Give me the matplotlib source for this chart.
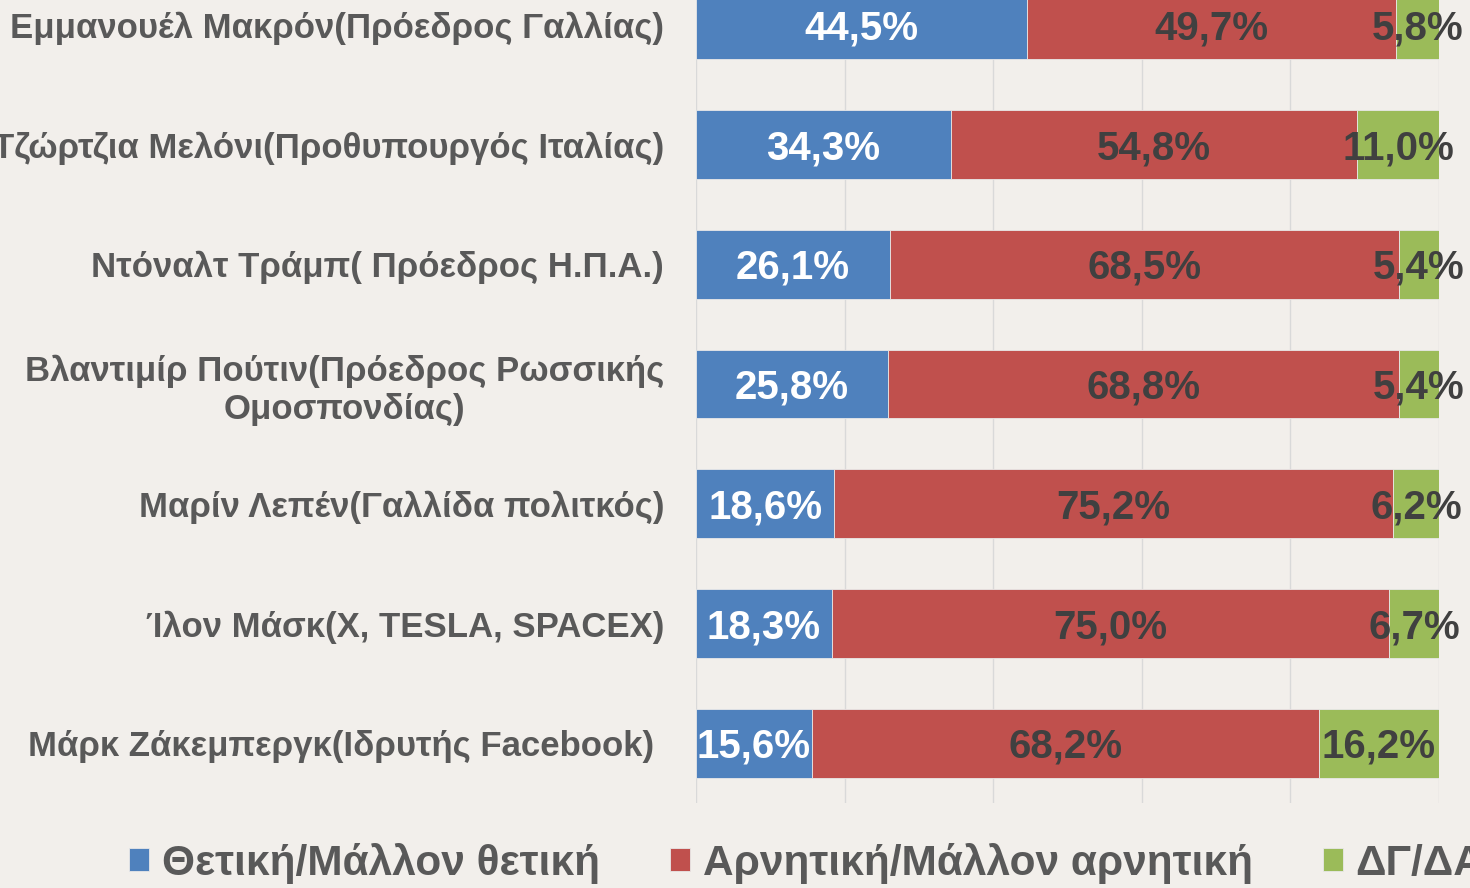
import matplotlib.pyplot as plt
import numpy as np

people = [
    "Εμμανουέλ Μακρόν(Πρόεδρος Γαλλίας)",
    "Τζώρτζια Μελόνι(Προθυπουργός Ιταλίας)",
    "Ντόναλτ Τράμπ( Πρόεδρος Η.Π.Α.)",
    "Βλαντιμίρ Πούτιν(Πρόεδρος Ρωσσικής\nΟμοσπονδίας)",
    "Μαρίν Λεπέν(Γαλλίδα πολιτκός)",
    "Ίλον Μάσκ(X, TESLA, SPACEX)",
    "Μάρκ Ζάκεμπεργκ(Ιδρυτής Facebook) ",
]
positive = [44.5, 34.3, 26.1, 25.8, 18.6, 18.3, 15.6]
negative = [49.7, 54.8, 68.5, 68.8, 75.2, 75.0, 68.2]
no_answer = [5.8, 11.0, 5.4, 5.4, 6.2, 6.7, 16.2]
series_names = ["Θετική/Μάλλον θετική", "Αρνητική/Μάλλον αρνητική", "ΔΓ/ΔΑ"]

colors = ["#4f81bd", "#c0504d", "#9bbb59"]
label_colors = ["white", "#404040", "#404040"]

plt.rcParams["font.family"] = ["Liberation Sans", "DejaVu Sans"]
plt.rcParams["font.weight"] = "bold"

fig = plt.figure(figsize=(14.7, 8.88), dpi=100)
fig.patch.set_facecolor("#f2efeb")
ax = fig.add_axes([0.4735, 0.0957, 0.5054, 0.9437])
ax.set_facecolor("none")

data = np.array([positive, negative, no_answer])
totals = data.sum(axis=0)
shares = data / totals * 100
y = np.arange(len(people))

left = np.zeros(len(people))
bars = []
for i in range(3):
    b = ax.barh(y, shares[i], left=left, height=0.575, color=colors[i],
                edgecolor="#e8e8e8", linewidth=0.6, label=series_names[i], zorder=2)
    bars.append(b)
    for j in range(len(people)):
        # small downward nudge so the digits sit in the middle of the bar
        ax.text(left[j] + shares[i][j] / 2, y[j] + 0.03,
                f"{data[i][j]:.1f}%".replace(".", ","),
                ha="center", va="center", fontsize=29, fontweight="bold",
                color=label_colors[i], zorder=3)
    left += shares[i]

ax.set_xlim(0, 100)
ax.set_ylim(len(people) - 0.5, -0.5)
ax.set_xticks(np.arange(0, 101, 20))
ax.set_xticklabels([])
ax.tick_params(axis="x", length=0)
ax.tick_params(axis="y", length=0, pad=23)
ax.grid(axis="x", color="#d9d9d9", linewidth=1, zorder=0)
ax.set_yticks(y)
ax.set_yticklabels(people, fontsize=25, fontweight="bold", color="#595959")
for lab in ax.get_yticklabels():
    lab.set_multialignment("center")
for s in ax.spines.values():
    s.set_visible(False)

leg = fig.legend(handles=bars, labels=series_names, loc="center left",
                 bbox_to_anchor=(0.076, 0.028), ncol=3, frameon=False,
                 fontsize=30.5, handlelength=0.48, handleheight=0.48,
                 handletextpad=0.3, columnspacing=1.65, borderaxespad=0)
for t in leg.get_texts():
    t.set_color("#595959")
    t.set_fontweight("bold")

fig.savefig("out.png", dpi=100, facecolor=fig.get_facecolor())
